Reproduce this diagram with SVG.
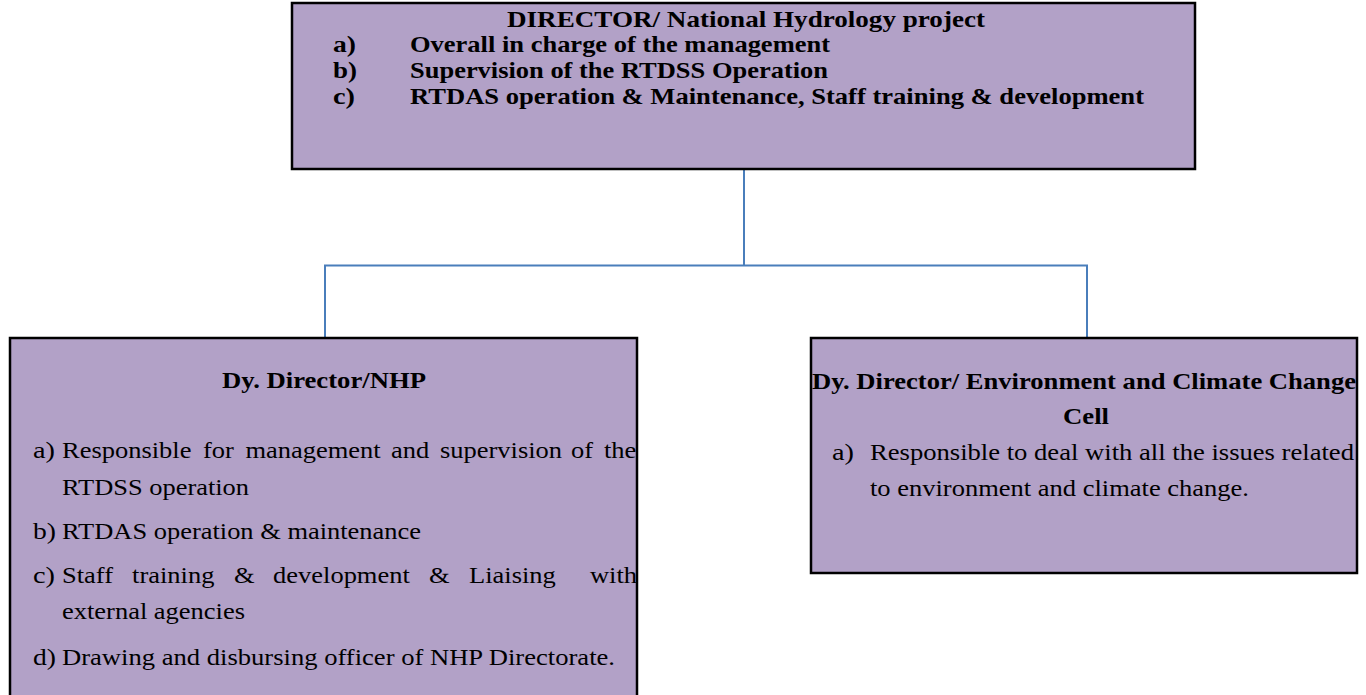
<svg xmlns="http://www.w3.org/2000/svg" width="1366" height="695" viewBox="0 0 1366 695">
<style>
.box{fill:#b2a1c7;stroke:#000;stroke-width:2.5}
.b{font-family:"Liberation Serif","Times New Roman",serif;font-weight:bold;font-size:23px;fill:#000}
.r{font-family:"Liberation Serif","Times New Roman",serif;font-size:23px;fill:#000}
.c{text-anchor:middle}
.conn{fill:none;stroke:#4a7ebb;stroke-width:2}
</style>
<rect width="1366" height="695" fill="#fff"/>
<g id="connectors">
<path class="conn" d="M744,169 V265.5 M325,338 V265.5 H1087 V338"/>
</g>
<g id="director">
<rect class="box" x="292" y="3" width="903" height="166"/>
<text class="b c" x="746" y="27" textLength="478" lengthAdjust="spacingAndGlyphs">DIRECTOR/ National Hydrology project</text>
<text class="b" x="333" y="52" textLength="23" lengthAdjust="spacingAndGlyphs">a)</text><text class="b" x="410" y="52" textLength="420" lengthAdjust="spacingAndGlyphs">Overall in charge of the management</text>
<text class="b" x="333" y="78" textLength="24" lengthAdjust="spacingAndGlyphs">b)</text><text class="b" x="410" y="78" textLength="418" lengthAdjust="spacingAndGlyphs">Supervision of the RTDSS Operation</text>
<text class="b" x="333" y="104" textLength="22" lengthAdjust="spacingAndGlyphs">c)</text><text class="b" x="410" y="104" textLength="734" lengthAdjust="spacingAndGlyphs">RTDAS operation &amp; Maintenance, Staff training &amp; development</text>
</g>
<g id="dy-director-nhp">
<rect class="box" x="10" y="338" width="627" height="362"/>
<text class="b c" x="324" y="388" textLength="204" lengthAdjust="spacingAndGlyphs">Dy. Director/NHP</text>
<text class="r" x="33" y="458" textLength="22" lengthAdjust="spacingAndGlyphs">a)</text>
<text class="r" transform="translate(62,458) scale(1.152,1)"><tspan x="0">Responsible</tspan> <tspan x="122.4">for</tspan> <tspan x="159.2">management</tspan> <tspan x="285.6">and</tspan> <tspan x="328.1">supervision</tspan> <tspan x="441.8">of</tspan> <tspan x="470.5">the</tspan></text>
<text class="r" x="62" y="495" textLength="187" lengthAdjust="spacingAndGlyphs">RTDSS operation</text>
<text class="r" x="33" y="539" textLength="23" lengthAdjust="spacingAndGlyphs">b)</text><text class="r" x="62" y="539" textLength="359" lengthAdjust="spacingAndGlyphs">RTDAS operation &amp; maintenance</text>
<text class="r" x="33" y="583" textLength="22" lengthAdjust="spacingAndGlyphs">c)</text>
<text class="r" transform="translate(62,583) scale(1.152,1)"><tspan x="0">Staff</tspan> <tspan x="60.8">training</tspan> <tspan x="149.3">&amp;</tspan> <tspan x="183.2">development</tspan> <tspan x="318.6">&amp;</tspan> <tspan x="353.3">Liaising</tspan>  <tspan x="458.3">with</tspan></text>
<text class="r" x="62" y="619" textLength="183" lengthAdjust="spacingAndGlyphs">external agencies</text>
<text class="r" x="33" y="665" textLength="23" lengthAdjust="spacingAndGlyphs">d)</text><text class="r" x="62" y="665" textLength="553" lengthAdjust="spacingAndGlyphs">Drawing and disbursing officer of NHP Directorate.</text>
</g>
<g id="dy-director-ecc">
<rect class="box" x="811" y="338" width="546" height="235"/>
<text class="b c" x="1084" y="389" textLength="544" lengthAdjust="spacingAndGlyphs">Dy. Director/ Environment and Climate Change</text>
<text class="b c" x="1086" y="424" textLength="46" lengthAdjust="spacingAndGlyphs">Cell</text>
<text class="r" x="832" y="460" textLength="22" lengthAdjust="spacingAndGlyphs">a)</text><text class="r" x="870" y="460" textLength="484" lengthAdjust="spacingAndGlyphs">Responsible to deal with all the issues related</text>
<text class="r" x="870" y="496" textLength="379" lengthAdjust="spacingAndGlyphs">to environment and climate change.</text>
</g>
</svg>
